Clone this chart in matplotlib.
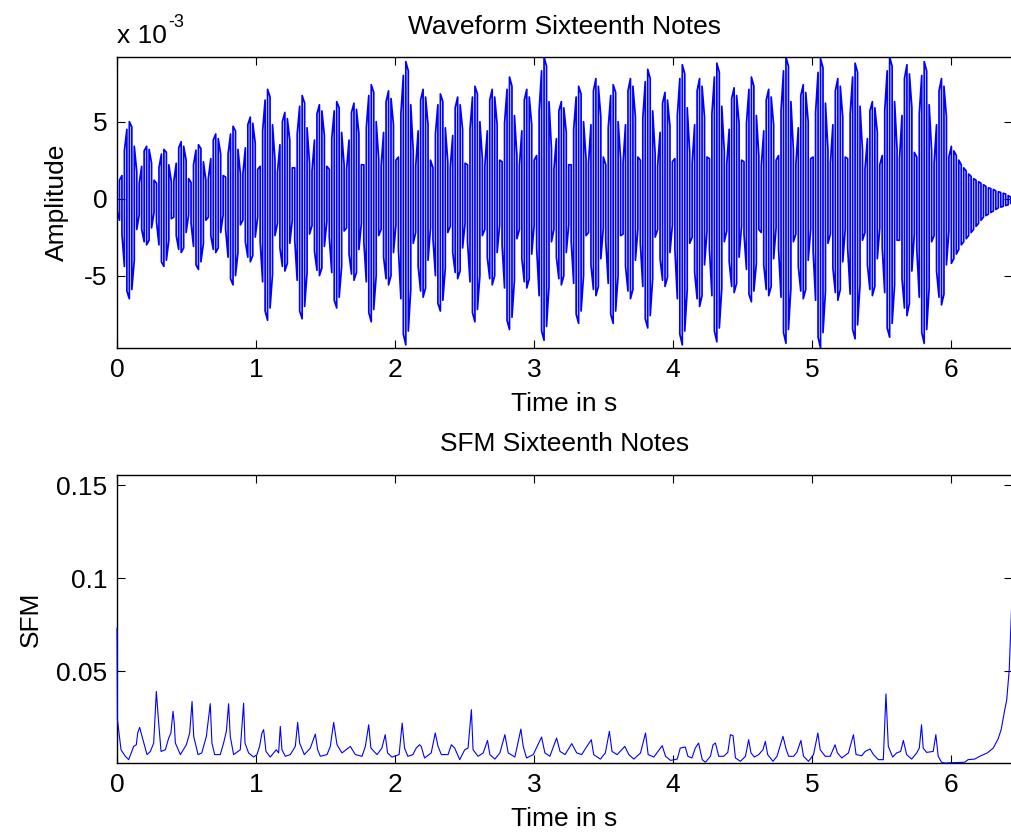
import numpy as np
import matplotlib
matplotlib.use("Agg")
import matplotlib.pyplot as plt

# ---------------- data ----------------
# Waveform: upper / lower extreme of each drawn stroke (units of 1e-3)
wave_end = 6.43
wave_hi = [
    1.5, 1.2,
    1.5, 3.1, 4.5, 5.0, 4.65, 3.4, 1.75,
    1.0, 2.1, 3.1, 3.4, 3.2, 2.3, 1.2,
    1.0, 2.0, 2.9, 3.2, 3.0, 2.2, 1.1,
    1.1, 2.3, 3.3, 3.7, 3.4, 2.5, 1.3,
    1.05, 2.2, 3.15, 3.5, 3.25, 2.4, 1.2,
    1.3, 2.6, 3.8, 4.2, 3.9, 2.9, 1.5,
    1.4, 2.9, 4.2, 4.7, 4.4, 3.2, 1.6,
    1.6, 3.3, 4.8, 5.3, 4.9, 3.6, 1.9,
    2.1, 4.4, 6.4, 7.1, 6.6, 4.8, 2.5,
    1.7, 3.5, 5.0, 5.6, 5.2, 3.8, 2.0,
    2.0, 4.2, 6.0, 6.7, 6.2, 4.6, 2.3,
    1.8, 3.8, 5.5, 6.1, 5.7, 4.1, 2.1,
    1.9, 3.9, 5.7, 6.3, 5.9, 4.3, 2.2,
    1.9, 3.8, 5.6, 6.2, 5.8, 4.2, 2.2,
    2.2, 4.6, 6.7, 7.4, 6.9, 5.0, 2.6,
    2.1, 4.3, 6.3, 7.0, 6.5, 4.8, 2.5,
    2.7, 5.5, 8.0, 8.9, 8.3, 6.1, 3.1,
    2.1, 4.4, 6.4, 7.1, 6.6, 4.8, 2.5,
    2.0, 4.2, 6.1, 6.8, 6.3, 4.6, 2.4,
    2.0, 4.1, 5.9, 6.6, 6.1, 4.5, 2.3,
    2.2, 4.5, 6.6, 7.3, 6.8, 5.0, 2.6,
    2.1, 4.4, 6.4, 7.1, 6.6, 4.8, 2.5,
    2.4, 4.9, 7.1, 7.9, 7.3, 5.4, 2.8,
    2.1, 4.4, 6.4, 7.1, 6.6, 4.8, 2.5,
    2.8, 5.7, 8.3, 9.2, 8.6, 6.3, 3.2,
    1.9, 3.9, 5.7, 6.3, 5.9, 4.3, 2.2,
    2.2, 4.5, 6.6, 7.3, 6.8, 5.0, 2.6,
    2.3, 4.8, 7.0, 7.8, 7.3, 5.3, 2.7,
    2.2, 4.6, 6.7, 7.4, 6.9, 5.0, 2.6,
    2.3, 4.8, 7.0, 7.8, 7.3, 5.3, 2.7,
    2.5, 5.2, 7.6, 8.4, 7.8, 5.7, 2.9,
    2.1, 4.3, 6.2, 6.9, 6.4, 4.7, 2.4,
    2.6, 5.4, 7.8, 8.7, 8.1, 5.9, 3.0,
    2.3, 4.8, 7.0, 7.8, 7.3, 5.3, 2.7,
    2.6, 5.5, 7.9, 8.8, 8.2, 6.0, 3.1,
    2.2, 4.5, 6.5, 7.2, 6.7, 4.9, 2.5,
    2.4, 4.9, 7.1, 7.9, 7.3, 5.4, 2.8,
    2.1, 4.4, 6.4, 7.1, 6.6, 4.8, 2.5,
    2.8, 5.7, 8.3, 9.2, 8.6, 6.3, 3.2,
    2.2, 4.6, 6.7, 7.4, 6.9, 5.0, 2.6,
    2.7, 5.6, 8.2, 9.1, 8.5, 6.2, 3.2,
    2.3, 4.8, 7.0, 7.8, 7.3, 5.3, 2.7,
    2.6, 5.5, 7.9, 8.8, 8.2, 6.0, 3.1,
    1.9, 3.9, 5.7, 6.3, 5.9, 4.3, 2.2,
    2.8, 5.7, 8.3, 9.2, 8.6, 6.3, 3.2,
    2.6, 5.4, 7.8, 8.7, 8.1, 5.9, 3.0,
    2.7, 5.5, 8.0, 8.9, 8.3, 6.1, 3.1,
    2.3, 4.8, 7.0, 7.8, 7.3, 5.3, 2.7,
    3.4, 3.1, 2.8, 2.5, 2.2, 2.0, 1.8, 1.6, 1.45, 1.3, 1.2, 1.1, 1.0,
    0.9, 0.8, 0.7, 0.65, 0.6, 0.5, 0.45, 0.4, 0.35, 0.3, 0.2, 0.1,
]
wave_lo = [
    -0.8, -1.4,
    -2.3, -4.4, -6.0, -6.5, -5.9, -4.0, -2.0,
    -1.05, -2.0, -2.8, -3.0, -2.7, -1.9, -0.9,
    -1.5, -3.0, -4.1, -4.4, -4.0, -2.7, -1.3,
    -1.2, -2.4, -3.3, -3.5, -3.2, -2.2, -1.05,
    -1.6, -3.1, -4.3, -4.6, -4.1, -2.9, -1.4,
    -1.2, -2.4, -3.3, -3.5, -3.2, -2.2, -1.05,
    -2.0, -3.8, -5.2, -5.6, -5.0, -3.5, -1.7,
    -1.4, -2.8, -3.8, -4.1, -3.7, -2.5, -1.2,
    -2.8, -5.4, -7.3, -7.9, -7.1, -4.9, -2.4,
    -1.6, -3.2, -4.4, -4.7, -4.2, -2.9, -1.4,
    -2.7, -5.3, -7.3, -7.8, -7.0, -4.8, -2.3,
    -1.75, -3.4, -4.65, -5.0, -4.5, -3.1, -1.5,
    -2.5, -4.8, -6.6, -7.1, -6.4, -4.4, -2.1,
    -1.9, -3.6, -4.9, -5.3, -4.8, -3.3, -1.6,
    -2.8, -5.4, -7.4, -8.0, -7.2, -5.0, -2.4,
    -2.0, -3.8, -5.2, -5.6, -5.0, -3.5, -1.7,
    -3.3, -6.5, -8.8, -9.5, -8.6, -5.9, -2.9,
    -2.2, -4.4, -6.0, -6.4, -5.8, -4.0, -1.9,
    -2.6, -5.0, -6.8, -7.3, -6.6, -4.5, -2.2,
    -1.8, -3.5, -4.8, -5.2, -4.7, -3.2, -1.6,
    -2.8, -5.4, -7.4, -8.0, -7.2, -5.0, -2.4,
    -2.0, -3.8, -5.2, -5.6, -5.0, -3.5, -1.7,
    -3.0, -5.8, -7.9, -8.5, -7.7, -5.3, -2.6,
    -2.0, -3.9, -5.4, -5.8, -5.2, -3.6, -1.7,
    -3.2, -6.3, -8.6, -9.2, -8.3, -5.7, -2.8,
    -2.0, -3.8, -5.2, -5.6, -5.0, -3.5, -1.7,
    -2.8, -5.5, -7.5, -8.1, -7.3, -5.0, -2.4,
    -2.2, -4.3, -5.9, -6.3, -5.7, -3.9, -1.9,
    -2.8, -5.5, -7.5, -8.1, -7.3, -5.0, -2.4,
    -2.3, -4.4, -6.0, -6.5, -5.9, -4.0, -2.0,
    -2.9, -5.7, -7.8, -8.4, -7.6, -5.2, -2.5,
    -2.0, -3.9, -5.3, -5.7, -5.1, -3.5, -1.7,
    -3.3, -6.5, -8.8, -9.5, -8.6, -5.9, -2.9,
    -2.5, -4.8, -6.5, -7.0, -6.3, -4.3, -2.1,
    -3.3, -6.3, -8.6, -9.3, -8.4, -5.8, -2.8,
    -2.1, -4.1, -5.7, -6.1, -5.5, -3.8, -1.8,
    -2.3, -4.6, -6.2, -6.7, -6.0, -4.2, -2.0,
    -2.2, -4.3, -5.9, -6.3, -5.7, -3.9, -1.9,
    -3.3, -6.4, -8.7, -9.4, -8.5, -5.8, -2.8,
    -2.3, -4.4, -6.0, -6.5, -5.9, -4.0, -2.0,
    -3.4, -6.6, -9.0, -9.7, -8.7, -6.0, -2.9,
    -2.3, -4.5, -6.1, -6.6, -5.9, -4.1, -2.0,
    -3.2, -6.2, -8.5, -9.1, -8.2, -5.6, -2.7,
    -2.2, -4.3, -5.9, -6.3, -5.7, -3.9, -1.9,
    -3.2, -6.1, -8.4, -9.0, -8.1, -5.6, -2.7,
    -2.7, -5.2, -7.1, -7.6, -6.8, -4.7, -2.3,
    -3.3, -6.4, -8.7, -9.4, -8.5, -5.8, -2.8,
    -2.4, -4.7, -6.4, -6.9, -6.2, -4.3, -2.1,
    -4.2, -3.9, -3.6, -3.3, -3.0, -2.8, -2.6, -2.4, -2.2, -2.0, -1.8, -1.6, -1.4,
    -1.2, -1.1, -1.0, -0.9, -0.8, -0.7, -0.6, -0.55, -0.5, -0.45, -0.4, -0.3,
]

# SFM curve (time in s, value)
sfm_t = [0.000, 0.003, 0.029, 0.060, 0.084, 0.120, 0.139, 0.149, 0.163, 0.180,
         0.216, 0.240, 0.264, 0.283, 0.300, 0.317, 0.348, 0.372, 0.388, 0.403,
         0.412, 0.420, 0.456, 0.499, 0.523, 0.540, 0.552, 0.583, 0.610, 0.643,
         0.671, 0.683, 0.703, 0.743, 0.767, 0.787, 0.803, 0.815, 0.839, 0.887,
         0.911, 0.921, 0.947, 0.983, 1.007, 1.026, 1.043, 1.055, 1.072, 1.103,
         1.146, 1.163, 1.175, 1.187, 1.211, 1.247, 1.283, 1.300, 1.314, 1.348,
         1.391, 1.427, 1.444, 1.463, 1.511, 1.535, 1.559, 1.583, 1.619, 1.679,
         1.715, 1.763, 1.787, 1.811, 1.827, 1.871, 1.906, 1.930, 1.947, 1.978,
         2.030, 2.052, 2.069, 2.093, 2.129, 2.153, 2.177, 2.189, 2.213, 2.261,
         2.290, 2.310, 2.334, 2.382, 2.406, 2.430, 2.466, 2.502, 2.526, 2.550,
         2.562, 2.598, 2.635, 2.666, 2.683, 2.719, 2.755, 2.791, 2.815, 2.863,
         2.906, 2.923, 2.947, 2.995, 3.055, 3.079, 3.115, 3.163, 3.188, 3.224,
         3.272, 3.308, 3.344, 3.373, 3.413, 3.430, 3.478, 3.514, 3.543, 3.562,
         3.599, 3.654, 3.683, 3.719, 3.767, 3.803, 3.822, 3.863, 3.923, 3.947,
         3.983, 4.031, 4.053, 4.089, 4.108, 4.137, 4.161, 4.185, 4.211, 4.234,
         4.270, 4.289, 4.306, 4.330, 4.366, 4.395, 4.414, 4.433, 4.450, 4.486,
         4.522, 4.545, 4.562, 4.586, 4.617, 4.648, 4.665, 4.682, 4.720, 4.749,
         4.792, 4.816, 4.833, 4.868, 4.892, 4.921, 4.940, 4.976, 5.012, 5.043,
         5.060, 5.096, 5.132, 5.167, 5.184, 5.215, 5.263, 5.299, 5.318, 5.359,
         5.383, 5.419, 5.443, 5.478, 5.514, 5.533, 5.550, 5.581, 5.610, 5.639,
         5.658, 5.682, 5.718, 5.754, 5.773, 5.789, 5.801, 5.825, 5.873, 5.892,
         5.909, 5.933, 5.957, 6.029, 6.100, 6.124, 6.172, 6.208, 6.262, 6.305,
         6.340, 6.362, 6.388, 6.402, 6.420, 6.440]
sfm_v = [0.0732, 0.0241, 0.0080, 0.0045, 0.0027, 0.0098, 0.0107, 0.0170, 0.0200, 0.0152,
         0.0054, 0.0071, 0.0116, 0.0393, 0.0223, 0.0071, 0.0080, 0.0143, 0.0170, 0.0286,
         0.0223, 0.0116, 0.0054, 0.0107, 0.0170, 0.0339, 0.0152, 0.0054, 0.0063, 0.0152,
         0.0327, 0.0116, 0.0054, 0.0054, 0.0116, 0.0179, 0.0327, 0.0152, 0.0054, 0.0080,
         0.0330, 0.0116, 0.0063, 0.0041, 0.0054, 0.0098, 0.0170, 0.0188, 0.0071, 0.0041,
         0.0080, 0.0063, 0.0205, 0.0080, 0.0045, 0.0054, 0.0098, 0.0227, 0.0116, 0.0054,
         0.0089, 0.0164, 0.0080, 0.0045, 0.0054, 0.0098, 0.0227, 0.0107, 0.0063, 0.0098,
         0.0054, 0.0045, 0.0098, 0.0214, 0.0089, 0.0054, 0.0089, 0.0161, 0.0063, 0.0041,
         0.0054, 0.0223, 0.0089, 0.0045, 0.0054, 0.0089, 0.0107, 0.0098, 0.0036, 0.0063,
         0.0170, 0.0098, 0.0054, 0.0054, 0.0107, 0.0089, 0.0027, 0.0080, 0.0089, 0.0295,
         0.0080, 0.0045, 0.0063, 0.0130, 0.0054, 0.0030, 0.0063, 0.0161, 0.0063, 0.0041,
         0.0191, 0.0098, 0.0036, 0.0054, 0.0148, 0.0063, 0.0045, 0.0143, 0.0071, 0.0054,
         0.0113, 0.0063, 0.0054, 0.0089, 0.0134, 0.0054, 0.0030, 0.0063, 0.0179, 0.0071,
         0.0054, 0.0098, 0.0054, 0.0030, 0.0063, 0.0170, 0.0054, 0.0041, 0.0102, 0.0045,
         0.0023, 0.0030, 0.0089, 0.0095, 0.0045, 0.0036, 0.0089, 0.0116, 0.0027, 0.0013,
         0.0045, 0.0107, 0.0116, 0.0045, 0.0045, 0.0066, 0.0161, 0.0155, 0.0036, 0.0018,
         0.0045, 0.0134, 0.0063, 0.0041, 0.0054, 0.0080, 0.0125, 0.0054, 0.0018, 0.0045,
         0.0152, 0.0080, 0.0045, 0.0045, 0.0066, 0.0130, 0.0045, 0.0018, 0.0054, 0.0170,
         0.0080, 0.0045, 0.0045, 0.0107, 0.0063, 0.0036, 0.0063, 0.0161, 0.0054, 0.0048,
         0.0071, 0.0084, 0.0054, 0.0027, 0.0027, 0.0380, 0.0098, 0.0041, 0.0063, 0.0071,
         0.0130, 0.0054, 0.0030, 0.0063, 0.0089, 0.0214, 0.0089, 0.0066, 0.0071, 0.0161,
         0.0045, 0.0013, 0.0009, 0.0011, 0.0013, 0.0027, 0.0030, 0.0045, 0.0063, 0.0089,
         0.0138, 0.0188, 0.0295, 0.0348, 0.0509, 0.0902]

x_ticks = [0, 1, 2, 3, 4, 5, 6]
wave_yticks = [-5, 0, 5]
sfm_yticks = [0.05, 0.1, 0.15]
sfm_yticklabels = ["0.05", "0.1", "0.15"]

# ---------------- figure ----------------
plt.rcParams["font.family"] = ["Liberation Sans", "DejaVu Sans"]
FS = 19
BLUE = "#0000ff"
W, H = 1012, 832

fig = plt.figure(figsize=(W / 100, H / 100), dpi=100)
ax1 = fig.add_axes([117 / W, 1 - 348 / H, 895 / W, 291 / H])
ax2 = fig.add_axes([117 / W, 1 - 763 / H, 895 / W, 288 / H])

# waveform strokes: each stroke is a vertical line between its extremes, direction alternating
wave_t = np.linspace(0, wave_end, len(wave_hi))
xs, ys = [], []
for i, (t, h, l) in enumerate(zip(wave_t, wave_hi, wave_lo)):
    xs += [t, t]
    ys += [h, l] if i % 2 == 0 else [l, h]
ax1.plot(xs, ys, color=BLUE, lw=1.25)

ax2.plot(sfm_t, sfm_v, color=BLUE, lw=0.8, zorder=3, clip_on=False)

for ax in (ax1, ax2):
    ax.set_xlim(0, 6.44)
    ax.set_xticks(x_ticks)
    ax.set_xticklabels([str(v) for v in x_ticks])
    ax.tick_params(direction="in", length=6, width=0.8, top=True, right=True,
                   labelsize=FS, pad=7, colors="black")
    for s in ax.spines.values():
        s.set_linewidth(1.0)
        s.set_color("black")
    ax.set_xlabel("Time in s", fontsize=FS)

ax1.set_ylim(-9.7, 9.2)
ax1.set_yticks(wave_yticks)
ax1.set_yticklabels([str(v) for v in wave_yticks])
ax2.set_ylim(0.0009, 0.1554)
ax2.set_yticks(sfm_yticks)
ax2.set_yticklabels(sfm_yticklabels)

ax1.set_title("Waveform Sixteenth Notes", fontsize=FS, y=1.079, pad=0)
ax2.set_title("SFM Sixteenth Notes", fontsize=FS, y=1.083, pad=0)
ax1.set_ylabel("Amplitude", fontsize=FS)
ax2.set_ylabel("SFM", fontsize=FS)
ax1.xaxis.set_label_coords(0.5, -0.151)
ax2.xaxis.set_label_coords(0.5, -0.153)
ax1.yaxis.set_label_coords(-0.054, 0.5)
ax2.yaxis.set_label_coords(-0.083, 0.5)

fig.text(117 / W, 1 - 43 / H, "x 10", fontsize=FS, ha="left", va="baseline")
fig.text(168 / W, 1 - 27 / H, "-3", fontsize=13, ha="left", va="baseline")

fig.savefig("out.png", dpi=100)
